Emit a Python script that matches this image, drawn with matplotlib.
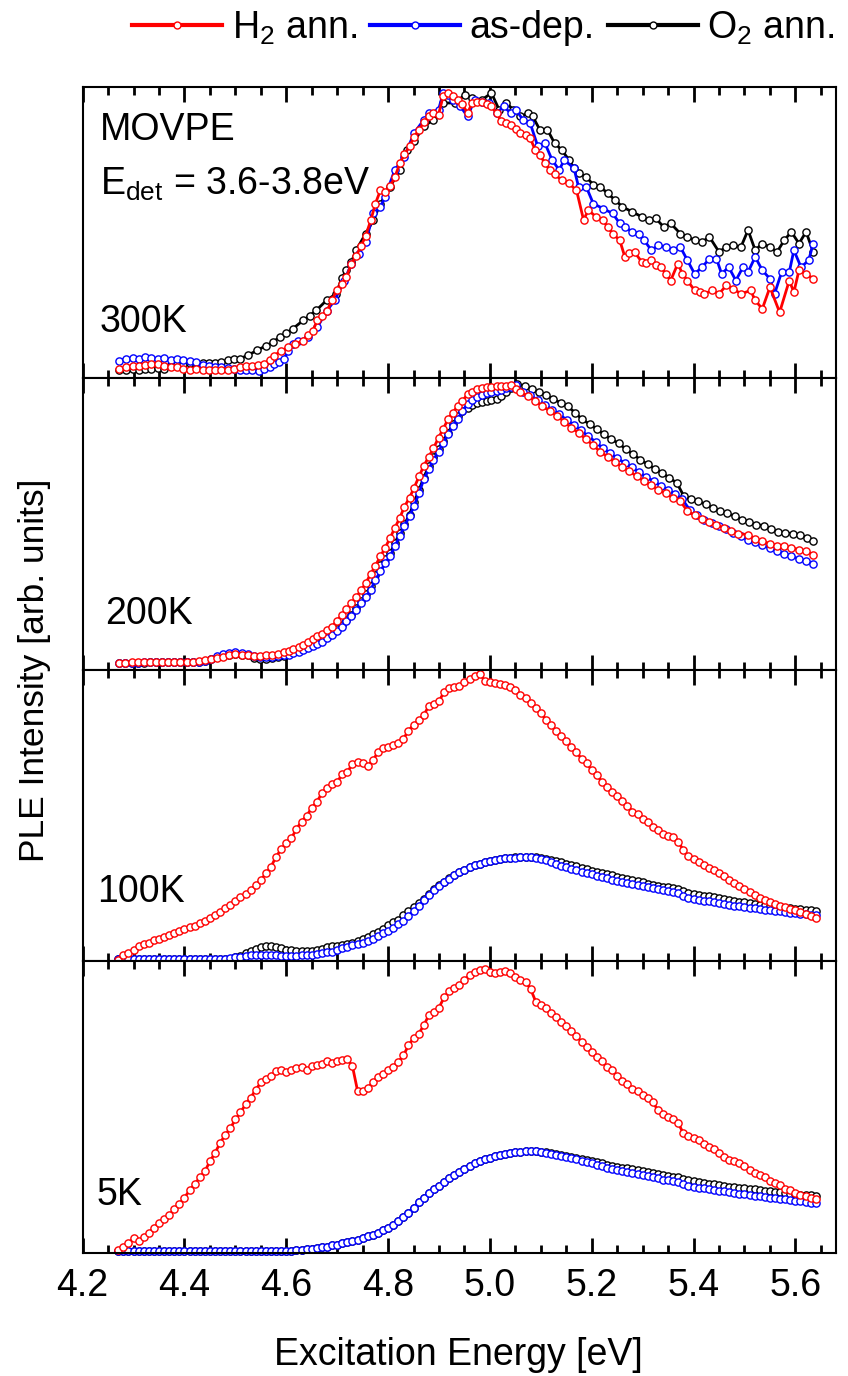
import matplotlib
matplotlib.use('Agg')
import matplotlib.pyplot as plt
from matplotlib.ticker import MultipleLocator
from matplotlib.lines import Line2D

plt.rcParams['font.family'] = ['Liberation Sans', 'DejaVu Sans']
plt.rcParams['mathtext.fontset'] = 'custom'
plt.rcParams['mathtext.rm'] = 'Liberation Sans'
plt.rcParams['mathtext.it'] = 'Liberation Sans:italic'
plt.rcParams['mathtext.bf'] = 'Liberation Sans:bold'

# ---------------- data ----------------
series_labels = ['H$_2$ ann.', 'as-dep.', 'O$_2$ ann.']
series_colors = ['#ff0000', '#0000ff', '#000000']
panel_labels = ['300K', '200K', '100K', '5K']
x_ticks = [4.2, 4.4, 4.6, 4.8, 5.0, 5.2, 5.4, 5.6]

# ---- 300 K ----
E300_h2 = [4.272, 4.285, 4.298, 4.31, 4.322, 4.335, 4.348, 4.36, 4.373, 4.386,
           4.398, 4.41, 4.423, 4.436, 4.448, 4.46, 4.472, 4.485, 4.497, 4.509,
           4.52, 4.532, 4.545, 4.557, 4.567, 4.576, 4.59, 4.604, 4.618, 4.633,
           4.643, 4.652, 4.661, 4.671, 4.68, 4.69, 4.699, 4.709, 4.718, 4.728,
           4.737, 4.747, 4.756, 4.766, 4.775, 4.785, 4.794, 4.804, 4.813, 4.823,
           4.832, 4.842, 4.851, 4.861, 4.87, 4.88, 4.889, 4.899, 4.908, 4.918,
           4.927, 4.937, 4.946, 4.956, 4.965, 4.975, 4.984, 4.994, 5.003, 5.013,
           5.022, 5.032, 5.041, 5.051, 5.06, 5.07, 5.079, 5.089, 5.098, 5.108,
           5.117, 5.127, 5.141, 5.155, 5.17, 5.184, 5.193, 5.208, 5.222, 5.231,
           5.241, 5.255, 5.265, 5.274, 5.284, 5.298, 5.307, 5.317, 5.326, 5.336,
           5.345, 5.355, 5.369, 5.378, 5.388, 5.402, 5.412, 5.421, 5.436, 5.45,
           5.464, 5.478, 5.493, 5.512, 5.521, 5.535, 5.55, 5.569, 5.588, 5.597,
           5.607, 5.621, 5.635]
I300_h2 = [.032, .04, .044, .044, .046, .049, .049, .043, .04, .038,
           .034, .03, .031, .03, .03, .028, .03, .029, .032, .038,
           .042, .044, .046, .049, .065, .078, .095, .107, .118, .13,
           .15, .164, .199, .215, .233, .27, .302, .325, .348, .394,
           .42, .455, .49, .543, .6, .646, .64, .66, .69, .738,
           .77, .796, .83, .853, .88, .899, .91, .905, .968, .979,
           .97, .956, .94, .91, .945, .95, .95, .94, .933, .91,
           .882, .875, .87, .855, .842, .835, .824, .784, .765, .74,
           .715, .7, .681, .669, .646, .543, .578, .555, .543, .52,
           .497, .474, .417, .43, .434, .4, .395, .405, .39, .382,
           .36, .336, .394, .36, .336, .302, .295, .29, .302, .29,
           .319, .308, .29, .302, .268, .239, .313, .227, .336, .296,
           .371, .359, .342]

E300_as = [4.272, 4.285, 4.298, 4.31, 4.322, 4.335, 4.348, 4.36, 4.373, 4.386,
           4.398, 4.41, 4.423, 4.436, 4.448, 4.46, 4.472, 4.485, 4.497, 4.509,
           4.52, 4.532, 4.547, 4.557, 4.567, 4.576, 4.585, 4.595, 4.604, 4.614,
           4.623, 4.642, 4.661, 4.68, 4.695, 4.714, 4.728, 4.742, 4.756, 4.771,
           4.785, 4.794, 4.813, 4.832, 4.851, 4.87, 4.88, 4.899, 4.908, 4.918,
           4.927, 4.942, 4.956, 4.97, 4.984, 4.999, 5.013, 5.027, 5.041, 5.051,
           5.065, 5.079, 5.094, 5.108, 5.122, 5.136, 5.146, 5.165, 5.174, 5.189,
           5.203, 5.222, 5.241, 5.255, 5.265, 5.279, 5.293, 5.303, 5.317, 5.331,
           5.345, 5.36, 5.374, 5.388, 5.402, 5.417, 5.431, 5.445, 5.455, 5.469,
           5.483, 5.497, 5.507, 5.521, 5.535, 5.55, 5.559, 5.573, 5.588, 5.597,
           5.611, 5.626, 5.635]
I300_as = [.06, .068, .07, .068, .072, .07, .066, .07, .064, .066,
           .062, .06, .055, .045, .042, .04, .038, .036, .034, .03,
           .028, .03, .026, .032, .04, .049, .058, .067, .095, .118,
           .13, .141, .176, .233, .268, .336, .394, .428, .468, .566,
           .589, .623, .715, .761, .842, .887, .91, .922, .979, .974,
           .956, .933, .899, .956, .95, .945, .91, .933, .91, .922,
           .887, .876, .796, .807, .75, .715, .75, .721, .658, .658,
           .6, .583, .566, .532, .52, .503, .497, .474, .44, .457,
           .451, .44, .451, .405, .359, .382, .411, .411, .359, .382,
           .336, .382, .365, .417, .371, .342, .29, .365, .365, .44,
           .382, .405, .463]

E300_o2 = [4.272, 4.285, 4.298, 4.31, 4.322, 4.335, 4.348, 4.36, 4.373, 4.386,
           4.398, 4.41, 4.423, 4.436, 4.448, 4.46, 4.472, 4.485, 4.497, 4.509,
           4.525, 4.542, 4.561, 4.574, 4.587, 4.6, 4.613, 4.633, 4.646, 4.659,
           4.679, 4.698, 4.709, 4.718, 4.728, 4.737, 4.756, 4.771, 4.785, 4.804,
           4.823, 4.837, 4.851, 4.87, 4.889, 4.908, 4.932, 4.951, 4.965, 4.984,
           5.003, 5.018, 5.032, 5.046, 5.06, 5.075, 5.084, 5.098, 5.113, 5.127,
           5.141, 5.155, 5.165, 5.174, 5.189, 5.203, 5.217, 5.231, 5.246, 5.26,
           5.279, 5.298, 5.312, 5.326, 5.341, 5.355, 5.374, 5.388, 5.402, 5.417,
           5.431, 5.45, 5.464, 5.478, 5.493, 5.507, 5.521, 5.535, 5.55, 5.564,
           5.578, 5.592, 5.607, 5.621, 5.635]
I300_o2 = [.028, .03, .032, .03, .034, .032, .036, .034, .045, .05,
           .05, .052, .05, .052, .053, .052, .056, .062, .066, .068,
           .08, .096, .113, .125, .142, .155, .171, .199, .215, .234,
           .268, .291, .345, .371, .4, .44, .497, .543, .6, .658,
           .715, .784, .813, .865, .887, .945, .945, .974, .962, .956,
           .979, .922, .945, .922, .899, .91, .899, .853, .853, .807,
           .784, .75, .721, .704, .692, .664, .658, .635, .612, .589,
           .572, .555, .543, .549, .52, .532, .497, .486, .474, .468,
           .486, .434, .451, .457, .451, .509, .44, .463, .451, .434,
           .474, .503, .463, .503, .434]

# ---- 200 K ----
E200_h2 = [4.272, 4.284, 4.296, 4.308, 4.32, 4.332, 4.344, 4.356, 4.368, 4.38,
           4.392, 4.404, 4.416, 4.428, 4.44, 4.452, 4.464, 4.476, 4.488, 4.5,
           4.512, 4.524, 4.536, 4.548, 4.56, 4.572, 4.584, 4.595, 4.605, 4.614,
           4.624, 4.633, 4.642, 4.652, 4.661, 4.671, 4.68, 4.69, 4.699, 4.709,
           4.718, 4.728, 4.737, 4.747, 4.756, 4.766, 4.775, 4.785, 4.794, 4.804,
           4.813, 4.823, 4.832, 4.842, 4.851, 4.861, 4.87, 4.88, 4.889, 4.899,
           4.908, 4.918, 4.927, 4.937, 4.946, 4.956, 4.965, 4.975, 4.984, 4.994,
           5.003, 5.013, 5.022, 5.032, 5.041, 5.051, 5.06, 5.075, 5.089, 5.103,
           5.117, 5.132, 5.146, 5.16, 5.174, 5.189, 5.203, 5.217, 5.231, 5.246,
           5.26, 5.274, 5.288, 5.303, 5.317, 5.331, 5.345, 5.36, 5.374, 5.388,
           5.402, 5.417, 5.431, 5.445, 5.459, 5.474, 5.488, 5.507, 5.521, 5.535,
           5.55, 5.564, 5.578, 5.592, 5.607, 5.621, 5.635]
I200_h2 = [.025, .025, .026, .026, .026, .026, .027, .027, .027, .028,
           .028, .028, .029, .03, .033, .036, .04, .046, .05, .055,
           .053, .051, .048, .049, .05, .053, .056, .06, .065, .071,
           .078, .086, .096, .106, .115, .124, .136, .149, .168, .189,
           .208, .229, .25, .273, .298, .33, .358, .39, .419, .453,
           .487, .522, .56, .591, .625, .665, .7, .732, .76, .797,
           .826, .862, .883, .906, .923, .946, .954, .963, .969, .971,
           .972, .975, .975, .975, .977, .963, .952, .94, .923, .906,
           .889, .872, .851, .831, .814, .791, .771, .748, .732, .713,
           .697, .682, .665, .648, .633, .619, .606, .591, .579, .545,
           .53, .518, .507, .499, .487, .476, .468, .464, .45, .442,
           .433, .427, .424, .419, .413, .407, .396]

E200_as = [4.272, 4.284, 4.296, 4.308, 4.32, 4.332, 4.344, 4.356, 4.368, 4.38,
           4.392, 4.404, 4.416, 4.428, 4.44, 4.452, 4.464, 4.476, 4.488, 4.5,
           4.512, 4.524, 4.536, 4.548, 4.56, 4.572, 4.584, 4.595, 4.605, 4.614,
           4.624, 4.633, 4.642, 4.652, 4.661, 4.671, 4.68, 4.69, 4.699, 4.709,
           4.718, 4.728, 4.737, 4.747, 4.756, 4.766, 4.775, 4.785, 4.794, 4.804,
           4.813, 4.823, 4.832, 4.842, 4.851, 4.861, 4.87, 4.88, 4.889, 4.899,
           4.908, 4.918, 4.927, 4.937, 4.946, 4.956, 4.965, 4.975, 4.984, 4.994,
           5.003, 5.013, 5.022, 5.032, 5.041, 5.051, 5.065, 5.079, 5.094, 5.108,
           5.122, 5.136, 5.151, 5.165, 5.179, 5.193, 5.208, 5.222, 5.236, 5.25,
           5.265, 5.279, 5.293, 5.307, 5.322, 5.336, 5.35, 5.364, 5.378, 5.393,
           5.407, 5.421, 5.436, 5.45, 5.464, 5.478, 5.493, 5.507, 5.521, 5.535,
           5.55, 5.564, 5.578, 5.592, 5.607, 5.621, 5.635]
I200_as = [.025, .025, .025, .025, .026, .026, .026, .026, .026, .027,
           .027, .027, .027, .028, .031, .038, .047, .054, .058, .06,
           .057, .054, .048, .045, .044, .045, .047, .05, .053, .057,
           .063, .069, .076, .083, .09, .097, .108, .12, .134, .149,
           .167, .186, .207, .229, .252, .275, .31, .338, .367, .39,
           .424, .459, .493, .528, .562, .608, .654, .688, .722, .748,
           .78, .808, .837, .862, .889, .912, .927, .938, .945, .95,
           .954, .958, .961, .966, .972, .979, .955, .942, .926, .91,
           .893, .877, .858, .84, .822, .802, .782, .76, .744, .726,
           .71, .695, .678, .662, .647, .632, .618, .603, .585, .548,
           .53, .516, .505, .495, .484, .47, .461, .447, .438, .43,
           .419, .407, .399, .39, .381, .373, .364]

E200_o2 = [4.272, 4.284, 4.296, 4.308, 4.32, 4.332, 4.344, 4.356, 4.368, 4.38,
           4.392, 4.404, 4.416, 4.428, 4.44, 4.452, 4.464, 4.476, 4.488, 4.5,
           4.512, 4.524, 4.536, 4.548, 4.56, 4.572, 4.584, 4.595, 4.605, 4.614,
           4.624, 4.633, 4.642, 4.652, 4.661, 4.671, 4.68, 4.69, 4.699, 4.709,
           4.718, 4.728, 4.737, 4.747, 4.756, 4.766, 4.775, 4.785, 4.794, 4.804,
           4.813, 4.823, 4.832, 4.842, 4.851, 4.861, 4.87, 4.88, 4.889, 4.899,
           4.908, 4.918, 4.927, 4.937, 4.946, 4.956, 4.965, 4.975, 4.984, 4.994,
           5.003, 5.013, 5.022, 5.032, 5.041, 5.053, 5.068, 5.082, 5.096, 5.11,
           5.124, 5.139, 5.153, 5.167, 5.181, 5.196, 5.21, 5.224, 5.238, 5.253,
           5.267, 5.281, 5.295, 5.31, 5.324, 5.338, 5.352, 5.367, 5.381, 5.395,
           5.409, 5.424, 5.438, 5.452, 5.466, 5.481, 5.495, 5.509, 5.523, 5.538,
           5.552, 5.566, 5.58, 5.595, 5.609, 5.623, 5.635]
I200_o2 = [.025, .025, .025, .025, .025, .026, .026, .026, .026, .027,
           .027, .029, .028, .029, .032, .038, .044, .047, .05, .055,
           .053, .05, .041, .039, .039, .042, .045, .048, .054, .06,
           .065, .071, .078, .086, .094, .103, .114, .126, .14, .155,
           .172, .189, .212, .235, .26, .287, .325, .361, .381, .401,
           .435, .47, .5, .533, .575, .619, .66, .7, .73, .757,
           .786, .814, .843, .872, .888, .9, .91, .917, .92, .923,
           .927, .931, .94, .952, .969, .98, .975, .963, .952, .943,
           .929, .917, .904, .883, .86, .843, .826, .808, .791, .778,
           .757, .74, .722, .705, .69, .677, .659, .642, .596, .587,
           .579, .568, .556, .545, .537, .528, .516, .507, .499, .495,
           .484, .472, .47, .468, .464, .453, .444]

# ---- 100 K and 5 K share one energy grid ----
E_low = [4.27, 4.28, 4.29, 4.30, 4.31, 4.32, 4.33, 4.34, 4.35, 4.36,
         4.37, 4.38, 4.39, 4.40, 4.41, 4.42, 4.43, 4.44, 4.45, 4.46,
         4.47, 4.48, 4.49, 4.50, 4.51, 4.52, 4.53, 4.54, 4.55, 4.56,
         4.57, 4.58, 4.59, 4.60, 4.61, 4.62, 4.63, 4.64, 4.65, 4.66,
         4.67, 4.68, 4.69, 4.70, 4.71, 4.72, 4.73, 4.74, 4.75, 4.76,
         4.77, 4.78, 4.79, 4.80, 4.81, 4.82, 4.83, 4.84, 4.85, 4.86,
         4.87, 4.88, 4.89, 4.90, 4.91, 4.92, 4.93, 4.94, 4.95, 4.96,
         4.97, 4.98, 4.99, 5.00, 5.01, 5.02, 5.03, 5.04, 5.05, 5.06,
         5.07, 5.08, 5.09, 5.10, 5.11, 5.12, 5.13, 5.14, 5.15, 5.16,
         5.17, 5.18, 5.19, 5.20, 5.21, 5.22, 5.23, 5.24, 5.25, 5.26,
         5.27, 5.28, 5.29, 5.30, 5.31, 5.32, 5.33, 5.34, 5.35, 5.36,
         5.37, 5.38, 5.39, 5.40, 5.41, 5.42, 5.43, 5.44, 5.45, 5.46,
         5.47, 5.48, 5.49, 5.50, 5.51, 5.52, 5.53, 5.54, 5.55, 5.56,
         5.57, 5.58, 5.59, 5.60, 5.61, 5.62, 5.63, 5.64]

I100_h2 = [.006, .021, .03, .04, .052, .061, .065, .072, .078, .084,
           .09, .097, .104, .11, .117, .123, .131, .14, .15, .161,
           .171, .182, .194, .206, .222, .23, .245, .262, .28, .302,
           .325, .36, .385, .406, .423, .455, .48, .5, .527, .548,
           .577, .596, .608, .616, .643, .65, .678, .685, .68, .671,
           .69, .718, .732, .736, .741, .75, .764, .792, .812, .828,
           .845, .877, .884, .893, .925, .938, .941, .946, .958, .97,
           .978, .986, .963, .959, .956, .953, .947, .941, .93, .914,
           .903, .888, .87, .852, .83, .81, .791, .773, .756, .737,
           .718, .695, .68, .656, .64, .616, .6, .582, .569, .55,
           .535, .514, .505, .489, .477, .463, .451, .438, .432, .428,
           .41, .382, .362, .352, .34, .33, .322, .313, .302, .292,
           .28, .27, .258, .248, .238, .228, .219, .21, .204, .198,
           .192, .186, .181, .176, .17, .164, .157, .15]
I100_as = [.008, .008, .008, .008, .008, .008, .008, .008, .008, .008,
           .008, .008, .008, .008, .008, .008, .008, .008, .008, .008,
           .009, .01, .011, .014, .016, .019, .021, .023, .023, .023,
           .023, .022, .02, .019, .019, .02, .021, .022, .023, .026,
           .029, .032, .034, .039, .045, .05, .055, .06, .065, .071,
           .078, .087, .096, .105, .116, .128, .14, .157, .174, .192,
           .211, .229, .246, .26, .272, .284, .296, .306, .315, .323,
           .33, .336, .341, .345, .349, .351, .354, .355, .356, .357,
           .357, .357, .354, .351, .348, .342, .335, .328, .323, .318,
           .313, .308, .304, .299, .294, .289, .285, .28, .276, .272,
           .268, .265, .262, .259, .255, .251, .248, .245, .241, .238,
           .235, .225, .219, .215, .212, .209, .206, .203, .2, .197,
           .194, .192, .19, .187, .185, .182, .18, .178, .176, .174,
           .172, .17, .168, .166, .164, .162, .16, .158]
I100_o2 = [.008, .008, .008, .008, .008, .008, .008, .008, .008, .008,
           .008, .008, .008, .008, .008, .008, .008, .008, .008, .008,
           .008, .008, .01, .015, .02, .029, .036, .043, .05, .053,
           .053, .05, .045, .041, .038, .036, .036, .036, .037, .039,
           .044, .048, .052, .054, .057, .061, .065, .07, .077, .084,
           .093, .101, .113, .124, .134, .144, .158, .172, .186, .2,
           .216, .232, .248, .262, .273, .285, .296, .306, .315, .323,
           .33, .336, .341, .345, .349, .352, .355, .356, .357, .358,
           .358, .358, .357, .355, .352, .349, .345, .341, .336, .331,
           .326, .321, .317, .312, .308, .303, .299, .295, .29, .286,
           .282, .278, .275, .271, .267, .264, .26, .257, .254, .251,
           .248, .241, .236, .232, .229, .226, .223, .22, .217, .214,
           .211, .208, .205, .203, .2, .198, .195, .193, .191, .189,
           .187, .185, .183, .181, .179, .177, .175, .173]

I5_h2 = [.009, .02, .035, .05, .04, .055, .068, .087, .104, .116,
         .13, .151, .168, .19, .215, .236, .259, .28, .315, .343,
         .378, .405, .428, .458, .482, .51, .533, .56, .585, .596,
         .607, .624, .627, .622, .628, .636, .638, .628, .64, .645,
         .648, .658, .651, .658, .661, .665, .64, .556, .557, .566,
         .586, .603, .615, .627, .639, .655, .678, .712, .738, .752,
         .781, .816, .828, .842, .877, .898, .91, .919, .938, .953,
         .965, .972, .973, .965, .96, .964, .968, .962, .948, .937,
         .931, .905, .862, .85, .84, .824, .811, .792, .778, .762,
         .743, .725, .706, .688, .672, .657, .639, .627, .608, .591,
         .579, .561, .555, .543, .53, .518, .489, .476, .466, .461,
         .445, .41, .4, .393, .386, .374, .364, .356, .344, .33,
         .32, .314, .307, .299, .285, .275, .267, .26, .248, .24,
         .233, .221, .215, .207, .2, .195, .19, .185]
I5_as = [.006, .006, .006, .006, .006, .006, .006, .006, .006, .006,
         .006, .006, .006, .006, .006, .006, .006, .006, .006, .006,
         .006, .006, .006, .006, .006, .006, .006, .006, .006, .007,
         .007, .007, .008, .008, .008, .009, .011, .013, .015, .017,
         .019, .022, .026, .029, .033, .037, .041, .046, .051, .057,
         .063, .07, .078, .087, .097, .11, .122, .138, .156, .174,
         .19, .205, .218, .23, .242, .257, .268, .277, .288, .297,
         .307, .315, .321, .326, .332, .337, .34, .343, .346, .348,
         .349, .35, .35, .346, .343, .339, .335, .332, .328, .325,
         .321, .316, .312, .307, .302, .297, .292, .289, .285, .281,
         .278, .274, .271, .267, .263, .259, .256, .252, .249, .246,
         .243, .235, .23, .227, .224, .222, .219, .216, .213, .211,
         .209, .206, .204, .202, .199, .197, .195, .193, .19, .188,
         .186, .184, .182, .18, .178, .176, .173, .17]
I5_o2 = [.006, .006, .006, .006, .006, .006, .006, .006, .006, .006,
         .006, .006, .006, .006, .006, .006, .006, .006, .006, .006,
         .006, .006, .006, .006, .006, .006, .006, .006, .006, .007,
         .007, .007, .008, .008, .008, .009, .011, .013, .015, .017,
         .019, .022, .026, .029, .033, .037, .041, .046, .051, .057,
         .063, .07, .078, .087, .097, .11, .122, .138, .156, .174,
         .19, .205, .218, .23, .242, .257, .268, .277, .288, .297,
         .307, .315, .321, .326, .332, .337, .34, .343, .346, .348,
         .349, .35, .35, .348, .346, .342, .339, .336, .333, .33,
         .327, .323, .319, .315, .311, .307, .303, .3, .296, .293,
         .29, .287, .284, .281, .278, .275, .272, .268, .265, .262,
         .259, .254, .25, .247, .244, .241, .238, .236, .233, .231,
         .228, .226, .224, .222, .22, .218, .216, .214, .212, .21,
         .208, .206, .204, .202, .2, .199, .198, .196]

panels = [
    [(E300_h2, I300_h2), (E300_as, I300_as), (E300_o2, I300_o2)],
    [(E200_h2, I200_h2), (E200_as, I200_as), (E200_o2, I200_o2)],
    [(E_low, I100_h2), (E_low, I100_as), (E_low, I100_o2)],
    [(E_low, I5_h2), (E_low, I5_as), (E_low, I5_o2)],
]

# ---------------- figure ----------------
FS = 27
fig, axes = plt.subplots(4, 1, figsize=(8.48, 13.76), dpi=100, sharex=True)
fig.subplots_adjust(left=0.0975, right=0.986, top=0.9368, bottom=0.0894, hspace=0)

style = dict(marker='o', ms=5.2, mfc='white', mew=1.0, lw=2.0, clip_on=False)

for ax, series, plabel in zip(axes, panels, panel_labels):
    # draw O2 first, then as-dep, then H2 on top
    for idx in (2, 1, 0):
        E, I = series[idx]
        ax.plot(E, I, color=series_colors[idx], mec=series_colors[idx], **style)
    ax.set_xlim(4.2, 5.68)
    ax.set_ylim(0, 1.0)
    ax.set_yticks([])
    ax.xaxis.set_major_locator(MultipleLocator(0.2))
    ax.xaxis.set_minor_locator(MultipleLocator(0.05))
    ax.tick_params(axis='x', which='both', direction='in', top=True, bottom=True,
                   labelsize=FS, pad=11)
    ax.tick_params(axis='x', which='major', length=11, width=2)
    ax.tick_params(axis='x', which='minor', length=6, width=2)
    for sp in ax.spines.values():
        sp.set_linewidth(1.5)

axes[3].set_xticks(x_ticks)
axes[3].set_xticklabels([f'{t:.1f}' for t in x_ticks])

# panel annotations
axes[0].text(0.023, 0.852, 'MOVPE', transform=axes[0].transAxes, fontsize=FS,
             ha='left', va='center')
axes[0].text(0.023, 0.665, r'E$_{\mathrm{det}}$ = 3.6-3.8eV', transform=axes[0].transAxes,
             fontsize=FS, ha='left', va='center')
label_pos = [(0.023, 0.192), (0.03, 0.192), (0.019, 0.237), (0.019, 0.2)]
for ax, plabel, (px, py) in zip(axes, panel_labels, label_pos):
    ax.text(px, py, plabel, transform=ax.transAxes, fontsize=FS, ha='left', va='center')

fig.text(0.541, 1 - 1365 / 1376, 'Excitation Energy [eV]', fontsize=FS,
         ha='center', va='baseline')
fig.text(0.041, 0.513, 'PLE Intensity [arb. units]', fontsize=25.5, rotation=90,
         ha='center', va='center')

handles = [Line2D([], [], color=c, mec=c, marker='o', ms=5, mfc='white', mew=1.0, lw=3)
           for c in series_colors]
fig.legend(handles, series_labels, loc='center right', bbox_to_anchor=(0.988, 1 - 28 / 1376),
           ncol=3, frameon=False, fontsize=FS, handlelength=2.4, handletextpad=0.25,
           columnspacing=0.35, borderaxespad=0.0, borderpad=0.1)

fig.savefig('out.png', dpi=100)
